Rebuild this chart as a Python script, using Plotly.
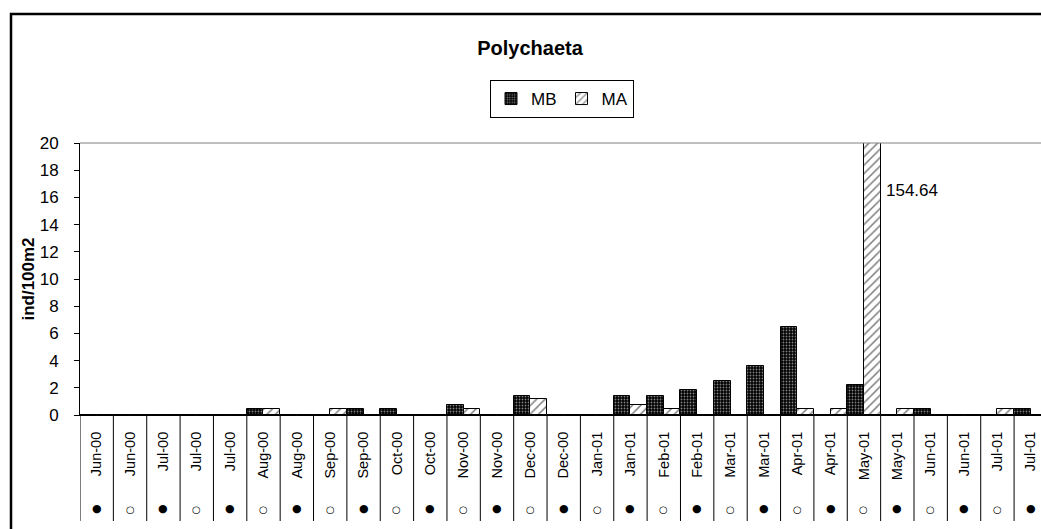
import plotly.graph_objects as go

# sampling dates (two per month, some months three) and night/day marker row
months = ["Jun-00", "Jun-00", "Jul-00", "Jul-00", "Jul-00", "Aug-00", "Aug-00",
          "Sep-00", "Sep-00", "Oct-00", "Oct-00", "Nov-00", "Nov-00", "Dec-00",
          "Dec-00", "Jan-01", "Jan-01", "Feb-01", "Feb-01", "Mar-01", "Mar-01",
          "Apr-01", "Apr-01", "May-01", "May-01", "Jun-01", "Jun-01", "Jul-01",
          "Jul-01"]
phase = ["●", "○", "●", "○", "●", "○", "●", "○", "●", "○", "●", "○", "●", "○",
         "●", "○", "●", "○", "●", "○", "●", "○", "●", "○", "●", "○", "●", "○",
         "●"]

# ind/100m2
mb = [0, 0, 0, 0, 0, 0.44, 0, 0, 0.44, 0.44, 0, 0.74, 0, 1.42, 0,
      0, 1.42, 1.42, 1.84, 2.53, 3.63, 6.5, 0, 2.21, 0, 0.44, 0, 0, 0.44]
ma = [0, 0, 0, 0, 0, 0.44, 0, 0.44, 0, 0, 0, 0.44, 0, 1.15, 0,
      0, 0.74, 0.44, 0, 0, 0, 0.44, 0.44, 154.64, 0.44, 0, 0, 0.44, 0]

yticks = list(range(0, 21, 2))

W, H = 1041, 529
L, T, B = 80, 143, 114
plot_h = H - T - B
plot_w = W - L


def py(px):
    # pixel row -> paper y
    return (H - B - px) / plot_h


def pxx(px):
    return (px - L) / plot_w


x = list(range(len(months)))

fig = go.Figure()
fig.add_trace(go.Bar(
    x=x, y=mb, name="MB",
    marker=dict(color="black", line=dict(color="black", width=1),
                pattern=dict(shape=".", fgcolor="white", bgcolor="black",
                             size=3, solidity=0.3)),
))
fig.add_trace(go.Bar(
    x=x, y=ma, name="MA",
    marker=dict(color="white", line=dict(color="black", width=1),
                pattern=dict(shape="/", fgcolor="black", bgcolor="white",
                             size=6, solidity=0.25)),
))

shapes = []
# outer chart frame
shapes.append(dict(type="rect", xref="paper", yref="paper",
                   x0=pxx(11), x1=1.1, y0=py(545), y1=py(14),
                   line=dict(color="black", width=2.5)))
# top edge of plot area
shapes.append(dict(type="line", xref="paper", yref="paper",
                   x0=0, x1=1, y0=1, y1=1,
                   line=dict(color="#808080", width=1)))
# category dividers under the axis
for i in range(len(months) + 1):
    shapes.append(dict(type="line", xref="x", yref="paper",
                       x0=i - 0.5, x1=i - 0.5, y0=0, y1=py(521),
                       line=dict(color="black", width=1)))

annotations = []
for i, s in enumerate(phase):
    annotations.append(dict(x=i, y=py(517), xref="x", yref="paper",
                            text=s, showarrow=False,
                            font=dict(family="DejaVu Sans",
                                      size=11 if s == "●" else 10,
                                      color="black")))
imax = ma.index(max(ma))
annotations.append(dict(x=imax + 0.5, y=py(179), xref="x", yref="paper",
                        text=f"{ma[imax]:.2f}", showarrow=False,
                        xanchor="left", xshift=3,
                        font=dict(family="Liberation Sans, Arial", size=17,
                                  color="black")))

fig.update_layout(
    width=W, height=H,
    margin=dict(l=L, r=0, t=T, b=B, autoexpand=False),
    paper_bgcolor="white", plot_bgcolor="white",
    font=dict(family="Liberation Sans, Arial", size=17, color="black"),
    title=dict(text="<b>Polychaeta</b>", x=530 / W, xref="container",
               xanchor="center", y=1 - 48 / H, yanchor="middle",
               font=dict(size=20)),
    barmode="group", bargap=0, bargroupgap=0,
    showlegend=True,
    legend=dict(orientation="h", x=pxx(562), xanchor="center",
                y=py(80), yanchor="top",
                bordercolor="black", borderwidth=1,
                itemwidth=30, font=dict(size=17),
                tracegroupgap=0, itemclick=False),
    shapes=shapes, annotations=annotations,
)
fig.update_xaxes(
    range=[-0.5, -0.5 + plot_w / 33.36],
    tickvals=x, ticktext=months, tickangle=-90,
    ticks="outside", ticklen=10, tickcolor="rgba(0,0,0,0)",
    tickfont=dict(family="Liberation Sans, Arial", size=14.5),
    showline=True, linecolor="black", linewidth=1,
    showgrid=False, zeroline=False, fixedrange=True,
)
fig.update_yaxes(
    range=[0, 20], tickvals=yticks,
    ticks="outside", ticklen=5, tickcolor="black",
    ticklabelstandoff=12,
    showline=True, linecolor="black", linewidth=1,
    showgrid=False, zeroline=False,
    title=dict(text="<b>ind/100m2</b>", font=dict(size=17), standoff=0),
)

fig.write_html("out.html", config={"displayModeBar": False},
               post_script="document.body.style.margin='0px';"
                           "document.body.style.overflow='hidden';")
